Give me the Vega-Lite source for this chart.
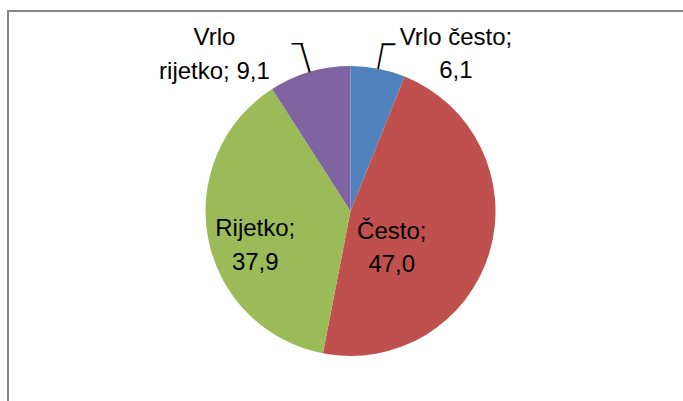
{
  "$schema": "https://vega.github.io/schema/vega-lite/v6.json",
  "width": 685,
  "height": 400,
  "autosize": {"type": "none"},
  "padding": {"left": 8, "top": 11, "right": 0, "bottom": 0},
  "background": "white",
  "view": {"stroke": "#878787", "strokeWidth": 2},
  "data": {
    "values": [
      {"i": 1, "cat": "Vrlo često", "v": 6.1, "lab": "Vrlo često;\n6,1"},
      {"i": 2, "cat": "Često", "v": 47.0, "lab": "Često;\n47,0"},
      {"i": 3, "cat": "Rijetko", "v": 37.9, "lab": "Rijetko;\n37,9"},
      {"i": 4, "cat": "Vrlo rijetko", "v": 9.1, "lab": "Vrlo\nrijetko; 9,1"}
    ]
  },
  "encoding": {
    "theta": {"field": "v", "type": "quantitative", "stack": true},
    "order": {"field": "i", "type": "quantitative"}
  },
  "layer": [
    {
      "mark": {"type": "arc", "outerRadius": 145},
      "encoding": {
        "color": {
          "field": "cat", "type": "nominal", "legend": null,
          "scale": {"domain": ["Vrlo često", "Često", "Rijetko", "Vrlo rijetko"],
                    "range": ["#4F81BD", "#C0504D", "#9BBB59", "#8064A2"]}
        }
      }
    },
    {
      "mark": {"type": "text", "radius": 42, "dy": 9, "dx": 1, "font": "Liberation Sans", "fontSize": 24, "lineHeight": 33.5, "lineBreak": "\n", "align": "center", "baseline": "middle", "fill": "#000"},
      "encoding": {
        "detail": {"field": "cat", "type": "nominal"},
        "text": {"condition": {"test": "datum.cat === 'Često'", "field": "lab"}, "value": ""}
      }
    },
    {
      "mark": {"type": "text", "radius": 97, "dy": 0, "dx": 0, "font": "Liberation Sans", "fontSize": 24, "lineHeight": 33.5, "lineBreak": "\n", "align": "center", "baseline": "middle", "fill": "#000"},
      "encoding": {
        "detail": {"field": "cat", "type": "nominal"},
        "text": {"condition": {"test": "datum.cat === 'Rijetko'", "field": "lab"}, "value": ""}
      }
    },
    {
      "mark": {"type": "text", "radius": 160, "dy": -16, "dx": 75, "font": "Liberation Sans", "fontSize": 24, "lineHeight": 33.5, "lineBreak": "\n", "align": "center", "baseline": "middle", "fill": "#000"},
      "encoding": {
        "detail": {"field": "cat", "type": "nominal"},
        "text": {"condition": {"test": "datum.cat === 'Vrlo često'", "field": "lab"}, "value": ""}
      }
    },
    {
      "mark": {"type": "text", "radius": 160, "dy": -19, "dx": -91, "font": "Liberation Sans", "fontSize": 24, "lineHeight": 33.5, "lineBreak": "\n", "align": "center", "baseline": "middle", "fill": "#000"},
      "encoding": {
        "detail": {"field": "cat", "type": "nominal"},
        "text": {"condition": {"test": "datum.cat === 'Vrlo rijetko'", "field": "lab"}, "value": ""}
      }
    },
    {
      "mark": {"type": "text", "radius": 157, "angle": 11, "font": "DejaVu Sans", "fontSize": 22, "align": "center", "baseline": "middle", "fill": "#000"},
      "encoding": {
        "detail": {"field": "cat", "type": "nominal"},
        "text": {"condition": {"test": "datum.cat === 'Vrlo često'", "value": "│"}, "value": ""}
      }
    },
    {
      "mark": {"type": "text", "radius": 159, "angle": -16.4, "font": "DejaVu Sans", "fontSize": 25.5, "align": "center", "baseline": "middle", "fill": "#000"},
      "encoding": {
        "detail": {"field": "cat", "type": "nominal"},
        "text": {"condition": {"test": "datum.cat === 'Vrlo rijetko'", "value": "│"}, "value": ""}
      }
    },
    {
      "mark": {"type": "text", "radius": 169, "dx": -1, "font": "DejaVu Sans", "fontSize": 22, "align": "left", "baseline": "middle", "fill": "#000"},
      "encoding": {
        "detail": {"field": "cat", "type": "nominal"},
        "text": {"condition": {"test": "datum.cat === 'Vrlo često'", "value": "─"}, "value": ""}
      }
    },
    {
      "mark": {"type": "text", "radius": 173, "dx": 1, "font": "DejaVu Sans", "fontSize": 18.3, "align": "right", "baseline": "middle", "fill": "#000"},
      "encoding": {
        "detail": {"field": "cat", "type": "nominal"},
        "text": {"condition": {"test": "datum.cat === 'Vrlo rijetko'", "value": "─"}, "value": ""}
      }
    }
  ]
}
